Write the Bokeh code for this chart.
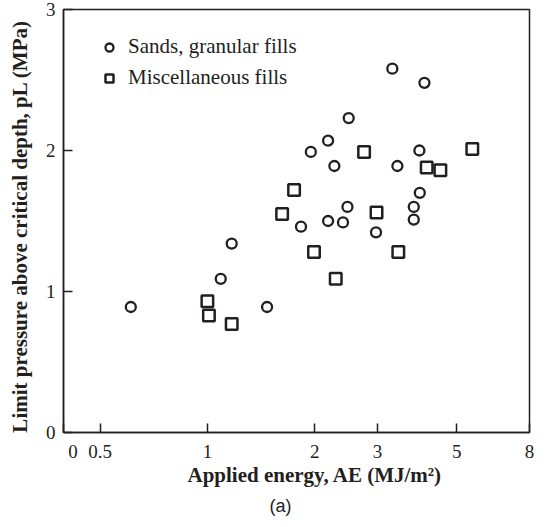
from bokeh.plotting import figure
from bokeh.models import Range1d, FixedTicker, Legend, LegendItem, Title
from bokeh.embed import file_html
from bokeh.resources import INLINE

# ---- data ----
sands_x = [3.30, 4.06, 2.49, 2.18, 1.95, 3.93, 2.27, 3.41, 3.94, 2.47,
           3.79, 3.79, 2.18, 2.40, 1.83, 2.97, 1.17, 1.09, 0.61, 1.47]
sands_y = [2.58, 2.48, 2.23, 2.07, 1.99, 2.00, 1.89, 1.89, 1.70, 1.60,
           1.60, 1.51, 1.50, 1.49, 1.46, 1.42, 1.34, 1.09, 0.89, 0.89]
misc_x = [2.75, 5.53, 4.12, 4.50, 1.75, 1.62, 2.98, 1.99, 3.43, 2.29, 1.00, 1.01, 1.17]
misc_y = [1.99, 2.01, 1.88, 1.86, 1.72, 1.55, 1.56, 1.28, 1.28, 1.09, 0.93, 0.83, 0.77]

series_labels = ["Sands, granular fills", "Miscellaneous fills"]
x_start, x_end = 0.395, 8
x_ticks = [x_start, 0.5, 1, 2, 3, 5, 8]
x_tick_labels = ["\u00a0\u00a0\u00a0\u00a00", "0.5", "1", "2", "3", "5", "8"]
y_ticks = [0, 1, 2, 3]
y_tick_labels = ["0", "1", "2", "3"]
x_title = "Applied energy,  AE (MJ/m\u00b2)"
y_title = "Limit pressure above critical depth, pL (MPa)"
caption = "(a)"

INK = "#231f20"
SERIF = "Liberation Serif"

p = figure(width=546, height=527, x_axis_type="log",
           x_range=Range1d(x_start, x_end), y_range=Range1d(0, 3),
           output_backend="svg", toolbar_location=None,
           min_border_left=63, min_border_right=17,
           min_border_top=9, min_border_bottom=95)
p.grid.visible = False
p.outline_line_color = INK
p.outline_line_width = 1.5
p.background_fill_color = "white"
p.border_fill_color = "white"

for ax in (p.xaxis[0], p.yaxis[0]):
    ax.axis_line_color = INK
    ax.axis_line_width = 1.5
    ax.major_tick_in = 9
    ax.major_tick_out = 0
    ax.major_tick_line_color = INK
    ax.major_tick_line_width = 1.5
    ax.minor_tick_line_color = None
    ax.major_label_text_font = SERIF
    ax.major_label_text_font_size = "19px"
    ax.major_label_text_color = INK
    ax.major_label_standoff = 8
    ax.axis_label_text_font = SERIF
    ax.axis_label_text_font_size = "21px"
    ax.axis_label_text_font_style = "bold"
    ax.axis_label_text_color = INK

p.xaxis.ticker = FixedTicker(ticks=x_ticks)
p.xaxis.major_label_overrides = {t: l for t, l in zip(x_ticks, x_tick_labels)}
p.yaxis.ticker = FixedTicker(ticks=y_ticks)
p.yaxis.major_label_overrides = {t: l for t, l in zip(y_ticks, y_tick_labels)}
# leading / trailing no-break spaces nudge the centred titles like the reference
p.xaxis.axis_label = "\u00a0" * 8 + x_title
p.xaxis.axis_label_standoff = -2
p.yaxis.axis_label = y_title + "\u00a0" * 2
p.yaxis.axis_label_standoff = 11

r1 = p.scatter(sands_x, sands_y, marker="circle", size=10, fill_color=None,
               line_color=INK, line_width=2.3)
r2 = p.scatter(misc_x, misc_y, marker="square", size=11.5, fill_color=None,
               line_color=INK, line_width=2.5)

legend = Legend(items=[LegendItem(label=series_labels[0], renderers=[r1]),
                       LegendItem(label=series_labels[1], renderers=[r2])],
                location=(36, 342), padding=0, margin=0, spacing=6,
                glyph_width=20, glyph_height=24, label_height=24, label_standoff=9,
                label_text_font=SERIF, label_text_font_size="21px",
                label_text_color=INK, border_line_color=None,
                background_fill_alpha=0)
p.add_layout(legend)

p.add_layout(Title(text=caption, align="left", offset=206, standoff=9,
                   text_font="Liberation Sans", text_font_size="18px",
                   text_font_style="normal", text_color=INK), "below")

open("out.html", "w").write(file_html(p, INLINE))
